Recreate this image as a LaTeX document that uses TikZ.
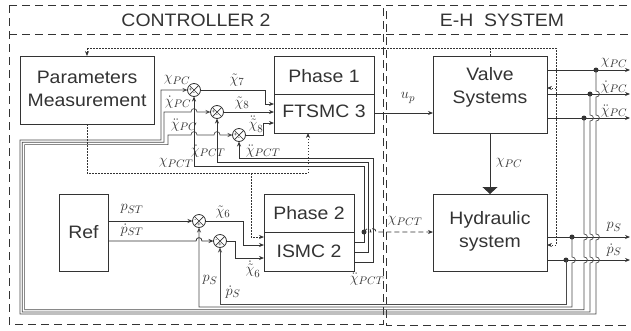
\documentclass[tikz,border=0pt]{standalone}
\usepackage{fontspec}
\setmainfont{Liberation Sans}[FakeStretch=1.08]
\usetikzlibrary{arrows.meta,calc}
\definecolor{lc}{HTML}{333333}
\definecolor{bc}{HTML}{4A4A4A}
\newcommand\vhop[2]{-- (#1,#2-3) .. controls (#1+4.5,#2-3) and (#1+4.5,#2+3) .. (#1,#2+3)}
\newcommand\hhop[2]{-- (#1-3,#2) .. controls (#1-3,#2-4.5) and (#1+3,#2-4.5) .. (#1+3,#2)}
\begin{document}
\begin{tikzpicture}[x=1pt,y=-1pt,
  ln/.style={draw=lc, line width=0.8pt},
  arr/.style={ln, -{Stealth[length=5pt,width=4pt]}},
  busarr/.style={draw=bc, line width=0.7pt, -{Stealth[length=5pt,width=4pt]}},
  blk/.style={draw=lc, line width=0.9pt, inner sep=0pt, outer sep=0pt},
  txt/.style={font=\fontsize{18}{23}\selectfont, text=lc, inner sep=0pt, align=center},
  lab/.style={font=\fontsize{15}{15}\selectfont, text=lc, inner sep=0pt},
  sgn/.style={font=\fontsize{6}{6}\selectfont, text=lc, inner sep=0pt},
  sumj/.style={circle, draw=lc, line width=0.8pt, minimum size=13pt, inner sep=0pt, outer sep=0pt},
  jdot/.style={circle, fill=lc, minimum size=5pt, inner sep=0pt, outer sep=0pt},
  frame/.style={draw=lc, line width=0.9pt, dash pattern=on 8pt off 5pt},
  dotl/.style={draw=lc, line width=0.8pt, dash pattern=on 1.5pt off 1.5pt},
  dotarr/.style={dotl, -{Stealth[length=5pt,width=4pt]}}
]
\useasboundingbox (0,0) rectangle (631,330);

% frames
\draw[frame] (9,5) rectangle (383,324);
\draw[frame] (9,34) -- (383,34);
\draw[frame] (640,5) -- (386,5) -- (386,325) -- (640,325);
\draw[frame] (386,34) -- (640,34);
\node[txt] (t1) at (196,20) {CONTROLLER 2};
\node[txt] (t2) at (502,20) {E-H\ \ SYSTEM};

% blocks
\node[blk, minimum width=134pt, minimum height=68pt] (pm) at (87,90) {};
\node[txt] (pmt) at (87,89) {Parameters\\Measurement};
\node[blk, minimum width=100pt, minimum height=77pt] (ph1) at (324,94.5) {};
\draw[ln] (274,94) -- (374,94);
\node[txt] (ph1a) at (324,76) {Phase 1};
\node[txt] (ph1b) at (324,111) {FTSMC 3};
\node[blk, minimum width=114pt, minimum height=77pt] (vs) at (490,94.5) {};
\node[txt] (vst) at (490,87) {Valve\\Systems};
\node[blk, minimum width=114pt, minimum height=77pt] (hs) at (490,232.5) {};
\node[txt] (hst) at (490,231) {Hydraulic\\system};
\node[blk, minimum width=90pt, minimum height=77pt] (ph2) at (309,232.5) {};
\draw[ln] (264,232) -- (354,232);
\node[txt] (ph2a) at (309,213) {Phase 2};
\node[txt] (ph2b) at (309,251) {ISMC 2};
\node[blk, minimum width=49pt, minimum height=77pt] (ref) at (83.5,232.5) {};
\node[txt] (reft) at (83.5,232) {Ref};

% summing junctions
\foreach \n/\x/\y in {s1/194/90, s2/217/112, s3/239/135, s4/199/221, s5/220/241}{
  \node[sumj] (\n) at (\x,\y) {};
  \draw[lc, line width=0.7pt] (\n.45) -- (\n.225) (\n.135) -- (\n.315);
}
\foreach \n in {s1,s2,s3}{
  \node[sgn] at ($(\n.center)+(-3.6,0)$) {+};
  \node[sgn] at ($(\n.center)+(0,3.8)$) {-};
}
\foreach \n in {s4,s5}{
  \node[sgn] at ($(\n.center)+(-3.6,0)$) {-};
  \node[sgn] at ($(\n.center)+(0,3.8)$) {+};
}

% junction dots
\node[jdot] (d1) at (596,70) {};
\node[jdot] (d2) at (590,94) {};
\node[jdot] (d3) at (584,118) {};
\node[jdot] (d4) at (572,237) {};
\node[jdot] (d5) at (566,260) {};
\node[jdot] (d6) at (364,232) {};

% plant outputs
\draw[arr] (vs.east |- 0,70) -- (630,70);
\draw[arr] (vs.east |- 0,94) -- (630,94);
\draw[arr] (vs.east |- 0,118) -- (630,118);
\draw[arr] (hs.east |- 0,237) -- (630,237);
\draw[arr] (hs.east |- 0,260) -- (630,260);

% feedback buses
\draw[busarr] (d1.center) \vhop{596}{94} \vhop{596}{118} \vhop{596}{237} \vhop{596}{260} -- (596,314) -- (20,314) -- (20,140) -- (161,140) -- (161,90) -- (s1.west);
\draw[busarr] (d2.center) \vhop{590}{118} \vhop{590}{237} \vhop{590}{260} -- (590,312) -- (22.3,312) -- (22.3,142.3) -- (164,142.3) -- (164,112) \hhop{194}{112} -- (s2.west);
\draw[busarr] (d3.center) \vhop{584}{237} \vhop{584}{260} -- (584,309.7) -- (24.6,309.7) -- (24.6,144.6) -- (168,144.6) -- (168,135) \hhop{194}{135} \hhop{217}{135} -- (s3.west);
\draw[busarr] (d4.center) \vhop{572}{260} -- (572,307) -- (199,307) -- (s4.south);
\draw[busarr] (d5.center) -- (566,304) -- (220,304) -- (s5.south);

% phase 2 outputs back to phase 1 junctions
\draw[arr] (ph2.east |- 0,242) -- (364,242) -- (364,166) -- (194,166) -- (s1.south);
\draw[arr] (ph2.east |- 0,252) -- (368,252) -- (368,162) -- (217,162) -- (s2.south);
\draw[arr] (ph2.east |- 0,262) -- (373,262) -- (373,158.5) -- (239,158.5) -- (s3.south);
\draw[arr, dash pattern=on 5pt off 3pt] (d6.center) \hhop{368}{232} \hhop{373}{232} -- (hs.west |- 0,232);

% junction outputs
\draw[arr] (s1.east) -- (265,90) -- (265,104) -- (ph1.west |- 0,104);
\draw[arr] (s2.east) -- (ph1.west |- 0,112);
\draw[arr] (s3.east) -- (263,135) -- (263,123) -- (ph1.west |- 0,123);
\draw[arr] (s4.east) -- (243,221) -- (243,245) -- (ph2.west |- 0,245);
\draw[arr] (s5.east) -- (235,241) -- (235,258) -- (ph2.west |- 0,258);
\draw[arr] (ref.east |- 0,221) -- (s4.west);
\draw[arr] (ref.east |- 0,241) \hhop{199}{241} -- (s5.west);

% control signal and plant coupling
\draw[arr] (ph1.east |- 0,113) -- (vs.west |- 0,113);
\draw[ln, -{Triangle[length=7pt,width=15pt]}] (vs.south) -- (hs.north);

% dotted info lines
\draw[dotl] (87,48) -- (556,48) -- (556,245);
\draw[dotarr] (87,48) -- (pm.north);
\draw[dotl] (490,48) -- (vs.north);
\draw[dotarr] (556,88) -- (vs.east |- 0,88);
\draw[dotarr] (556,245) -- (hs.east |- 0,245);
\draw[dotl] (pm.south) -- (87,173) -- (308,173);
\draw[dotarr] (308,173) -- (ph1.south -| 308,0);
\draw[dotarr] (251,173) -- (251,237) -- (ph2.west |- 0,237);

% labels
\node[lab] at (177,80) {$\chi_{PC}$};
\node[lab] at (178,102) {$\dot\chi_{PC}$};
\node[lab] at (184,125) {$\ddot\chi_{PC}$};
\node[lab] at (176,163) {$\chi_{PCT}$};
\node[lab] at (208,151) {$\dot\chi_{PCT}$};
\node[lab] at (263,151) {$\ddot\chi_{PCT}$};
\node[lab] at (237,80) {$\tilde\chi_7$};
\node[lab] at (242,103) {$\tilde\chi_8$};
\node[lab] at (256,124) {$\ddot{\tilde\chi}_8$};
\node[lab] at (408,98) {$u_p$};
\node[lab] at (509,163) {$\chi_{PC}$};
\node[lab] at (405,221) {$\chi_{PCT}$};
\node[lab] at (367,279) {$\ddot\chi_{PCT}$};
\node[lab] at (132,209) {$p_{ST}$};
\node[lab] at (132,230) {$\dot p_{ST}$};
\node[lab] at (210,280) {$p_S$};
\node[lab] at (233,292) {$\dot p_S$};
\node[lab] at (223,212) {$\tilde\chi_6$};
\node[lab] at (253,269) {$\dot{\tilde\chi}_6$};
\node[lab] at (614,63) {$\chi_{PC}$};
\node[lab] at (614,87) {$\dot\chi_{PC}$};
\node[lab] at (614,111) {$\ddot\chi_{PC}$};
\node[lab] at (614,227) {$p_S$};
\node[lab] at (614,250) {$\dot p_S$};
\end{tikzpicture}
\end{document}
